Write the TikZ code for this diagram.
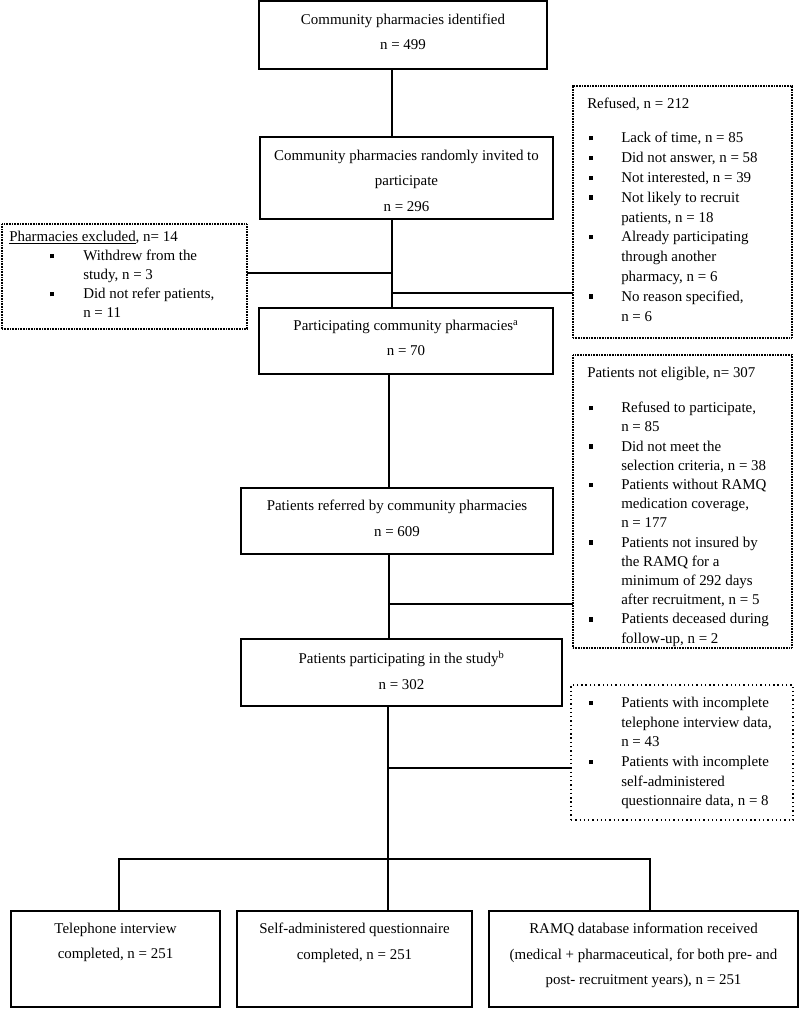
\documentclass[tikz,border=0pt]{standalone}
\usepackage{fontspec}
\setmainfont{Liberation Serif}
\newcommand\blt{\makebox[25.5pt][l]{\hspace{1.2pt}\raisebox{1.8pt}{\rule{3.4pt}{3.4pt}}}}
\newcommand\ind{\hspace*{25.5pt}}
\newcommand\bltx{\makebox[55.5pt][l]{\hspace{30.5pt}\raisebox{1.8pt}{\rule{3.4pt}{3.4pt}}}}
\newcommand\indx{\hspace*{55.5pt}}
\begin{document}
\begin{tikzpicture}[x=0.75pt,y=-0.75pt,
  mainbox/.style={draw=black,line width=1.6pt,inner sep=0pt,outer sep=0pt},
  sidebox/.style={draw=black,line width=0.8pt,dash pattern=on 0.7pt off 0.5pt,inner sep=0pt,outer sep=0pt},
  sparsebox/.style={draw=black,line width=1pt,dash pattern=on 1pt off 2.2pt,inner sep=0pt,outer sep=0pt},
  conn/.style={draw=black,line width=1.5pt},
  ctext/.style={anchor=north,inner sep=0pt,align=center,font=\fontsize{11.2pt}{19pt}\selectfont},
  ltext/.style={anchor=north west,inner sep=0pt,align=left,font=\fontsize{11.2pt}{14.6pt}\selectfont}]
\useasboundingbox (0,0) rectangle (800,1009);

% main boxes
\node[mainbox,minimum width=216pt,minimum height=51pt] (b1) at (403,35) {};
\node[mainbox,minimum width=219.75pt,minimum height=61.5pt] (b2) at (406.5,178) {};
\node[mainbox,minimum width=220.5pt,minimum height=49.5pt] (b3) at (406,341) {};
\node[mainbox,minimum width=234pt,minimum height=49.5pt] (b4) at (397,521) {};
\node[mainbox,minimum width=240.75pt,minimum height=50.25pt] (b5) at (401.5,672.5) {};
\node[mainbox,minimum width=156.75pt,minimum height=72pt] (b6) at (115.5,959) {};
\node[mainbox,minimum width=176.25pt,minimum height=72pt] (b7) at (354.5,959) {};
\node[mainbox,minimum width=231.75pt,minimum height=72pt] (b8) at (643.5,959) {};

\node[ctext] (t1) at (403,13.5) {Community pharmacies identified\\ n = 499};
\node[ctext] (t2) at (406.5,150) {Community pharmacies randomly invited to\\ participate\\ n = 296};
\node[ctext] (t3) at (406,320) {Participating community pharmacies\textsuperscript{a}\\ n = 70};
\node[ctext] (t4) at (397,500) {Patients referred by community pharmacies\\ n = 609};
\node[ctext] (t5) at (401.5,651) {Patients participating in the study\textsuperscript{b}\\ n = 302};
\node[ctext] (t6) at (115.5,923) {Telephone interview\\ completed, n = 251};
\node[ctext] (t7) at (354.5,923) {Self-administered questionnaire\\ completed, n = 251};
\node[ctext] (t8) at (643.5,923) {RAMQ database information received\\ (medical + pharmaceutical, for both pre- and\\ post- recruitment years), n = 251};

% side boxes
\node[sidebox,minimum width=183.75pt,minimum height=78.75pt] (excl) at (124.5,276.5) {};
\node[sidebox,minimum width=164.25pt,minimum height=189pt] (refused) at (682.5,212) {};
\node[sidebox,minimum width=164.25pt,minimum height=219.75pt] (notel) at (682.5,501.5) {};
\node[sparsebox,minimum width=166.5pt,minimum height=101.25pt] (incomp) at (682,752.5) {};

\node[ltext,font=\fontsize{11.2pt}{14.3pt}\selectfont] (texcl) at (9,231) {\underline{Pharmacies excluded}, n= 14\\
\bltx Withdrew from the\\ \indx study, n = 3\\ \bltx Did not refer patients,\\ \indx n = 11};

\node[ltext,font=\fontsize{11.2pt}{14.85pt}\selectfont] (tref) at (587,98) {Refused, n = 212\\[10.7pt]
\blt Lack of time, n = 85\\ \blt Did not answer, n = 58\\ \blt Not interested, n = 39\\
\blt Not likely to recruit\\ \ind patients, n = 18\\ \blt Already participating\\
\ind through another\\ \ind pharmacy, n = 6\\ \blt No reason specified,\\ \ind n = 6};

\node[ltext,font=\fontsize{11.2pt}{14.4pt}\selectfont] (tnot) at (587,367) {Patients not eligible, n= 307\\[11.9pt]
\blt Refused to participate,\\ \ind n = 85\\ \blt Did not meet the\\ \ind selection criteria, n = 38\\
\blt Patients without RAMQ\\ \ind medication coverage,\\ \ind n = 177\\
\blt Patients not insured by\\ \ind the RAMQ for a\\ \ind minimum of 292 days\\ \ind after recruitment, n = 5\\
\blt Patients deceased during\\ \ind follow-up, n = 2};

\node[ltext,font=\fontsize{11.2pt}{14.7pt}\selectfont] (tinc) at (587,697) {\blt Patients with incomplete\\ \ind telephone interview data,\\ \ind n = 43\\
\blt Patients with incomplete\\ \ind self-administered\\ \ind questionnaire data, n = 8};

% junction coordinates
\coordinate (j1) at (392,273);
\coordinate (j2) at (392,293);
\coordinate (j3) at (389,604);
\coordinate (j4) at (388,768);
\coordinate (j5) at (388,859);
\coordinate (l6) at (119,859);
\coordinate (l8) at (650,859);

% connectors
\draw[conn] (b1.south -| j1) -- (b2.north -| j1);
\draw[conn] (b2.south -| j1) -- (b3.north -| j1);
\draw[conn] (j1) -- (j1 -| excl.east);
\draw[conn] (j2) -- (j2 -| refused.west);
\draw[conn] (b3.south -| j3) -- (b4.north -| j3);
\draw[conn] (b4.south -| j3) -- (b5.north -| j3);
\draw[conn] (j3) -- (j3 -| notel.west);
\draw[conn] (b5.south -| j4) -- (j5);
\draw[conn] (j4) -- (j4 -| incomp.west);
\draw[conn] (b6.north -| l6) -- (l6) -- (l8) -- (b8.north -| l8);
\draw[conn] (j5) -- (b7.north -| j5);
\end{tikzpicture}
\end{document}
